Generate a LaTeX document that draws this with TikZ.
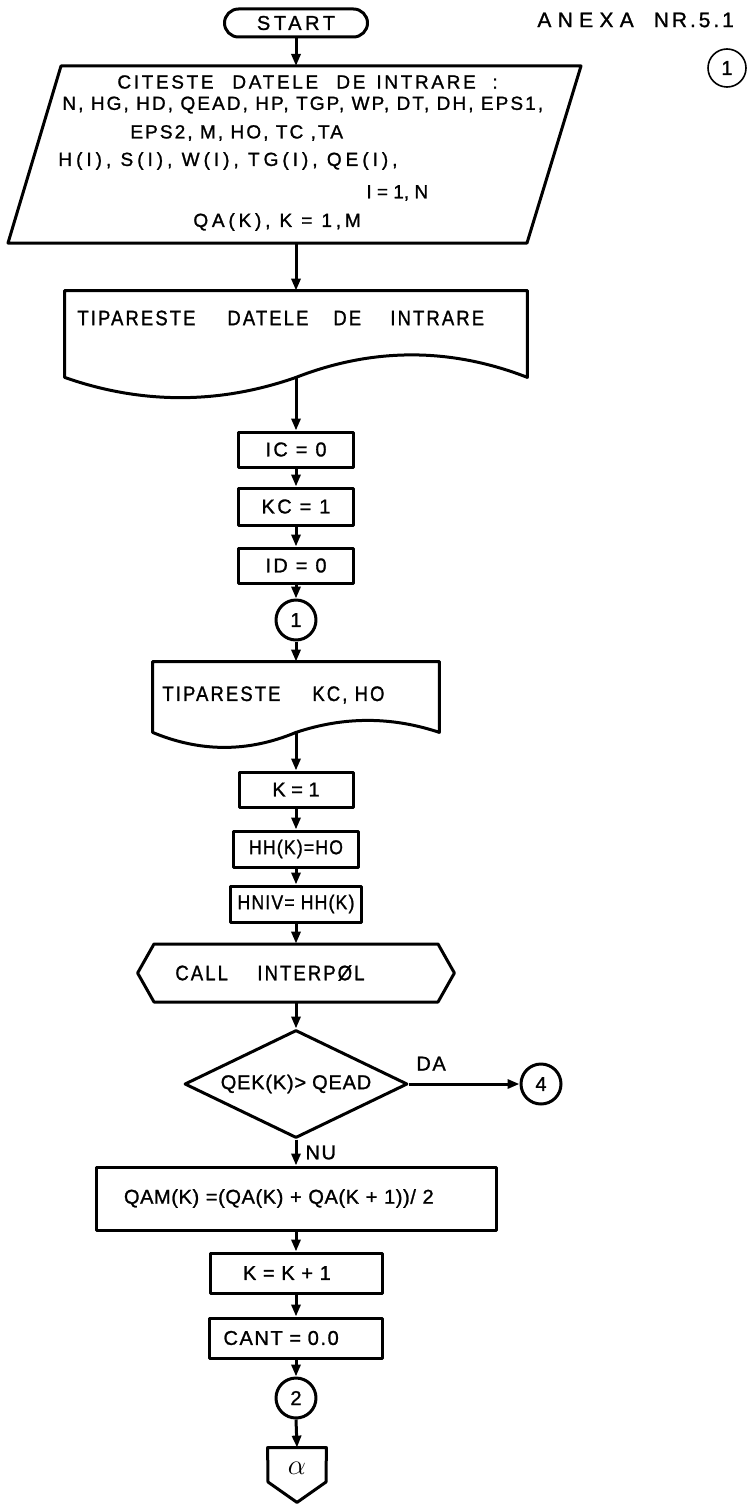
\documentclass[tikz,border=0pt]{standalone}
\usepackage{fontspec}
\setmainfont{Liberation Sans}[FakeBold=1.2]
\usetikzlibrary{arrows.meta,shapes.misc,shapes.geometric}
% letter spacing and condensed lettering helpers
\newcommand\spaced[1]{\addfontfeature{LetterSpace=#1}}
\newcommand\condensed[1]{\addfontfeature{FakeStretch=0.88,LetterSpace=#1}}

\begin{document}
\begin{tikzpicture}[x=0.5pt,y=-0.5pt,
  every node/.style={font=\fontsize{10}{12}\selectfont, inner sep=0pt},
  shapeline/.style={draw, line width=1.5pt, line join=round},
  frame/.style={draw=none, inner sep=0pt},
  procbox/.style={shapeline, rectangle, minimum height=17.5pt},
  conn/.style={shapeline, circle, minimum size=20pt},
  flow/.style={line width=1.5pt, -{Triangle[length=6pt,width=4.5pt]}},
  linetext/.style={anchor=west},
  intext/.style={linetext, font=\fontsize{9.5}{11}\selectfont\spaced{#1}},
  doctext/.style={linetext, font=\fontsize{10.5}{12}\selectfont\condensed{10}},
]
\useasboundingbox (0,0) rectangle (751,1509);

% heading and page number
\node[anchor=west, font=\fontsize{10.5}{12}\selectfont\spaced{30}] (anexa) at (537,20) {ANEXA\hspace{10pt}{\spaced{14}NR.5.1}};
\node[draw, circle, line width=0.8pt, minimum size=19pt, font=\fontsize{10}{12}\selectfont] (pagenum) at (727,68) {1};

% terminal
\node[shapeline, rounded rectangle, minimum width=71.5pt, minimum height=14pt, font=\fontsize{10}{12}\selectfont\spaced{18}] (start) at (296,23) {START};

% input parallelogram
\coordinate (inTL) at (61,66);
\coordinate (inTR) at (581,66);
\coordinate (inBR) at (527,243);
\coordinate (inBL) at (8,243);
\coordinate (inTop) at (296,66);
\coordinate (inBot) at (296,243);
\draw[shapeline] (inTL) -- (inTR) -- (inBR) -- (inBL) -- cycle;
\node[intext=14] (in1) at (117,82) {\makebox[57.5pt][l]{CITESTE}\makebox[52pt][l]{DATELE}\makebox[20pt][l]{DE}\makebox[58pt][l]{INTRARE}:};
\node[intext=11] (in2) at (62,105) {N, HG, HD, QEAD, HP, TGP, WP, DT, DH, EPS1,};
\node[intext=11] (in3) at (130,133) {EPS2, M, HO, TC ,TA};
\node[intext=21] (in4) at (58,161) {H(I), S(I), W(I), TG(I), QE(I),};
\node[intext=0] (in5) at (366,193) {I = 1, N};
\node[intext=20] (in6) at (193,222) {QA(K), K = 1,M};

% first print document
\node[frame, minimum width=231pt, minimum height=43pt] (doc1) at (296,334) {};
\draw[shapeline] (doc1.south west) -- (doc1.north west) -- (doc1.north east) -- (doc1.south east)
  .. controls +(-77,-30) and +(77,-30) .. (doc1.south)
  .. controls +(-77,27) and +(77,27) .. (doc1.south west) -- cycle;
\node[doctext] (doc1txt) at (77,318) {\makebox[75pt][l]{TIPARESTE}\makebox[53pt][l]{DATELE}\makebox[28.5pt][l]{DE}INTRARE};

% initialisations
\node[procbox, minimum width=57.5pt, font=\fontsize{10}{12}\selectfont\spaced{12}] (ic) at (296,449.5) {IC = 0};
\node[procbox, minimum width=57.5pt, minimum height=18.5pt, font=\fontsize{10}{12}\selectfont\spaced{12}] (kc) at (296,506.5) {KC = 1};
\node[procbox, minimum width=57.5pt, font=\fontsize{10}{12}\selectfont\spaced{12}] (id) at (296,565.5) {ID = 0};
\node[conn] (c1) at (296,620) {1};

% second print document
\node[frame, minimum width=143pt, minimum height=35pt] (doc2) at (296,697) {};
\draw[shapeline] (doc2.south west) -- (doc2.north west) -- (doc2.north east) -- (doc2.south east)
  .. controls +(-48,-16) and +(48,-16) .. (doc2.south)
  .. controls +(-48,20) and +(48,20) .. (doc2.south west) -- cycle;
\node[doctext] (doc2txt) at (162,695) {\makebox[75pt][l]{TIPARESTE}KC, HO};

\node[procbox, minimum width=57pt] (k1) at (296,789.5) {K = 1};
\node[procbox, minimum width=62.5pt, minimum height=18pt, font=\fontsize{10}{12}\selectfont\condensed{6}] (hh) at (296,849) {HH(K)=HO};
\node[procbox, minimum width=65.5pt, minimum height=18pt, font=\fontsize{10}{12}\selectfont\condensed{6}] (hniv) at (296,904) {HNIV= HH(K)};

% subroutine call
\node[frame, minimum width=158pt, minimum height=29pt] (call) at (296,973) {};
\draw[shapeline] (call.west) -- (154,944) -- (438,944) -- (call.east) -- (438,1002) -- (154,1002) -- cycle;
\node[doctext] (calltxt) at (175,973) {\makebox[41pt][l]{CALL}INTERPØL};

% decision
\node[shapeline, diamond, minimum width=111.5pt, minimum height=54pt, aspect=2, font=\fontsize{10}{12}\selectfont\spaced{4}] (dec) at (296,1084) {QEK(K)>\hspace{3pt}QEAD};
\node[conn] (c4) at (541,1084) {4};

\node[shapeline, rectangle, minimum height=31.5pt, text width=172pt, align=left, inner xsep=14pt, font=\fontsize{10}{12}\selectfont\spaced{3}] (qam) at (296,1198.5) {QAM(K) =(QA(K) + QA(K + 1))/ 2};
\node[shapeline, rectangle, minimum height=20pt, text width=53pt, align=left, inner xsep=16.5pt] (kk1) at (296,1273) {K = K + 1};
\node[shapeline, rectangle, minimum height=20pt, text width=72.5pt, align=left, inner xsep=7pt, font=\fontsize{10}{12}\selectfont\spaced{8}] (cant) at (296,1338) {CANT = 0.0};
\node[conn] (c2) at (296,1398) {2};

% off-page connector
\node[frame, minimum width=29pt, minimum height=27pt] (off) at (297,1475) {};
\draw[shapeline] (off.north west) -- (off.north east) -- (326,1482) -- (off.south) -- (268,1482) -- cycle;
\node[font=\fontsize{15}{17}\selectfont] (alpha) at (297,1468) {$\alpha$};

% connectors
\draw[flow] (start.south) -- (inTop);
\draw[flow] (inBot) -- (doc1.north);
\draw[flow] (doc1.south) -- (ic.north);
\draw[flow] (ic.south) -- (kc.north);
\draw[flow] (kc.south) -- (id.north);
\draw[flow] (id.south) -- (c1.north);
\draw[flow] (c1.south) -- (doc2.north);
\draw[flow] (doc2.south) -- (k1.north);
\draw[flow] (k1.south) -- (hh.north);
\draw[flow] (hh.south) -- (hniv.north);
\draw[flow] (hniv.south) -- (call.north);
\draw[flow] (call.south) -- (dec.north);
\draw[flow] (dec.east) -- node[above=6pt, pos=0.2, font=\fontsize{10}{12}\selectfont\spaced{8}] (da) {DA} (c4.west);
\draw[flow] (dec.south) -- node[right=4pt, pos=0.5, font=\fontsize{10}{12}\selectfont\spaced{8}] (nu) {NU} (qam.north);
\draw[flow] (qam.south) -- (kk1.north);
\draw[flow] (kk1.south) -- (cant.north);
\draw[flow] (cant.south) -- (c2.north);
\draw[flow] (c2.south) -- (off.north);
\end{tikzpicture}
\end{document}
